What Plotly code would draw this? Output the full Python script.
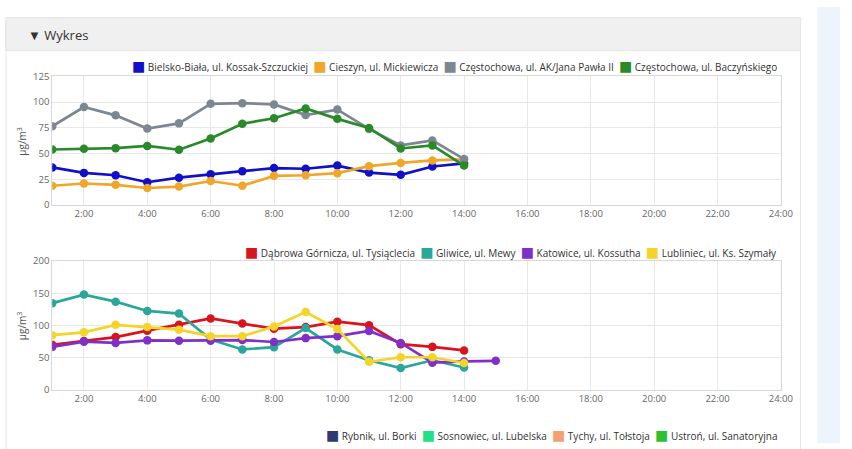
import plotly.graph_objects as go

W, H = 852, 449

hours = list(range(1, 15))
hours_kat = list(range(1, 16))
tick_vals = list(range(2, 25, 2))
tick_text = [f"{h}:00" for h in tick_vals]

# Chart 1
names1 = ["Bielsko-Biała, ul. Kossak-Szczuckiej", "Cieszyn, ul. Mickiewicza",
          "Częstochowa, ul. AK/Jana Pawła II", "Częstochowa, ul. Baczyńskiego"]
colors1 = ["#1010c8", "#f0a628", "#7c8791", "#2a8a2a"]
bielsko = [36.6, 31.3, 29, 22.2, 26.6, 30, 33, 36, 35.3, 38.4, 31.6, 29.4, 37.5, 40.6]
cieszyn = [18.8, 21, 19.7, 16.6, 18, 23.4, 18.8, 28.4, 29, 31, 37.8, 41, 43.4, 44.4]
czest_ak = [76.6, 95.3, 87.2, 74.4, 79.4, 98.4, 99, 97.8, 87.5, 92.8, 74, 58, 62.8, 44.7]
czest_bacz = [54, 54.7, 55.3, 57.5, 53.8, 64.7, 79, 84.4, 93.8, 83.8, 75, 55, 58, 38.4]
series1 = [bielsko, cieszyn, czest_ak, czest_bacz]

# Chart 2
names2 = ["Dąbrowa Górnicza, ul. Tysiąclecia", "Gliwice, ul. Mewy",
          "Katowice, ul. Kossutha", "Lubliniec, ul. Ks. Szymały"]
colors2 = ["#d8141c", "#2aa69a", "#8030c8", "#f5d42a"]
dabrowa = [70, 75.9, 82, 92, 101, 111, 103, 95, 97.5, 106, 100.5, 71, 66.8, 61.3]
gliwice = [134.7, 148, 137, 122.6, 118.6, 78, 62.8, 66.3, 96, 62.8, 46, 34, 46, 34.7]
katowice = [66.8, 74.9, 72.9, 76.9, 76.4, 76.4, 77.4, 74.4, 80.4, 83.4, 91.5, 72.9, 42.2, 44.2, 45.2]
lubliniec = [85, 89.4, 101, 97.5, 93.5, 83.4, 83.4, 98.5, 121, 94.5, 43.7, 50.7, 50.7, 41.7]
series2 = [dabrowa, gliwice, katowice, lubliniec]
xs2 = [hours, hours, hours_kat, hours]

# Chart 3 (only legend visible)
names3 = ["Rybnik, ul. Borki", "Sosnowiec, ul. Lubelska", "Tychy, ul. Tołstoja", "Ustroń, ul. Sanatoryjna"]
colors3 = ["#2e3a70", "#22e08a", "#f4a070", "#2ec02e"]


def px(x):
    return x / W


def py(y):
    return 1 - y / H


fig = go.Figure()


def add_series(names, colors, ys, xs, xaxis, yaxis):
    for n, c, y, x in zip(names, colors, ys, xs):
        fig.add_trace(go.Scatter(x=x, y=y, mode="lines+markers", name=n,
                                 line=dict(color=c, width=2.7),
                                 marker=dict(color=c, size=8.5),
                                 xaxis=xaxis, yaxis=yaxis, showlegend=False,
                                 hoverinfo="x+y+name"))


add_series(names1, colors1, series1, [hours] * 4, "x", "y")
add_series(names2, colors2, series2, xs2, "x2", "y2")

xdom = [px(53), px(792)]
axis_common = dict(showline=True, linecolor="#d8d8d8", mirror=True, showgrid=True,
                   gridcolor="#e8e8e8", zeroline=False, ticks="",
                   tickfont=dict(family="Open Sans", size=9.5, color="#666"))

xa = dict(axis_common, range=[1, 24], tickvals=tick_vals, ticktext=tick_text, domain=xdom)
fig.update_layout(
    width=W, height=H, margin=dict(l=0, r=0, t=0, b=0), autosize=False,
    paper_bgcolor="white", plot_bgcolor="white",
    xaxis=dict(xa, anchor="y"),
    xaxis2=dict(xa, anchor="y2"),
    yaxis=dict(axis_common, range=[0, 125], tickvals=[0, 25, 50, 75, 100, 125],
               domain=[py(204), py(71.5)], anchor="x"),
    yaxis2=dict(axis_common, range=[0, 200], tickvals=[0, 50, 100, 150, 200],
                domain=[py(394.3), py(261.7)], anchor="x2"),
    showlegend=False,
)

# Page decoration
shapes = [
    dict(type="rect", xref="paper", yref="paper", x0=px(829), x1=1, y0=0, y1=1,
         fillcolor="#eef4fc", line=dict(width=0), layer="below"),
    dict(type="rect", xref="paper", yref="paper", x0=px(6), x1=px(812), y0=-0.05, y1=py(11),
         fillcolor="white", line=dict(color="#e6e6e6", width=1), layer="below"),
    dict(type="rect", xref="paper", yref="paper", x0=px(6), x1=px(812), y0=py(45), y1=py(11),
         fillcolor="#f0f0f0", line=dict(color="#e6e6e6", width=1), layer="below"),
]
fig.update_layout(shapes=shapes)


def legend_text(names, colors):
    parts = []
    for n, c in zip(names, colors):
        parts.append(f"<span style='font-family:DejaVu Sans;font-size:14px;color:{c}'>■</span>\u00a0{n}")
    return "\u00a0\u00a0".join(parts)


leg_font = dict(family="Open Sans", size=10, color="#333")
annots = [
    dict(text="▼ Wykres", x=px(26), y=py(29), xref="paper", yref="paper",
         xanchor="left", yanchor="middle", showarrow=False,
         font=dict(family="Open Sans", size=13, color="#333")),
    dict(text="µg/m<sup>3</sup>", x=px(22), y=py(138), xref="paper", yref="paper",
         textangle=-90, showarrow=False, xanchor="center", yanchor="middle",
         font=dict(family="Open Sans", size=10, color="#555")),
    dict(text="µg/m<sup>3</sup>", x=px(22), y=py(328), xref="paper", yref="paper",
         textangle=-90, showarrow=False, xanchor="center", yanchor="middle",
         font=dict(family="Open Sans", size=10, color="#555")),
]
for txt_y, nm, cl in [(61, names1, colors1), (252, names2, colors2), (441, names3, colors3)]:
    annots.append(dict(text=legend_text(nm, cl), x=px(790), y=py(txt_y), xref="paper",
                       yref="paper", xanchor="right", yanchor="middle", showarrow=False,
                       font=leg_font))
fig.update_layout(annotations=annots)

post = (
    "var gd=document.getElementById('{plot_id}');"
    "document.documentElement.style.margin='0';document.documentElement.style.padding='0';"
    "document.body.style.margin='0';document.body.style.padding='0';"
    "document.body.style.overflow='hidden';document.documentElement.style.overflow='hidden';"
    "gd.style.position='fixed';gd.style.left='0px';gd.style.top='0px';"
)

fig.write_html(
    "out.html",
    config={"displayModeBar": False, "responsive": False},
    post_script=post,
)
